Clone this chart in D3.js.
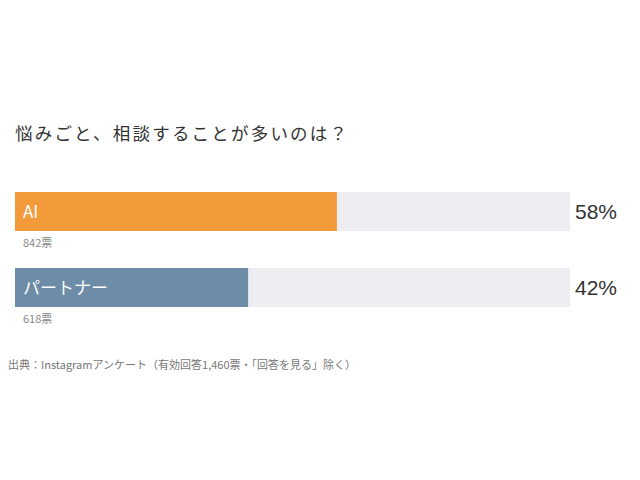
<!DOCTYPE html>
<html><head><meta charset="utf-8">
<script src="https://cdn.jsdelivr.net/npm/d3@7"></script>
<style>body{margin:0;background:#fff}svg{display:block}</style>
</head><body>
<script>
const categories = ["AI", "パートナー"];
const votes = [842, 618];
const percents = [58, 42];
const colors = ["#F39A3B", "#6D8CA8"];
const title = "悩みごと、相談することが多いのは？";
const footnote = "出典：Instagramアンケート（有効回答1,460票・「回答を見る」除く）";

const W = 640, H = 480;
const font = "'Noto Sans CJK JP','Liberation Sans',Arial,sans-serif";
const svg = d3.select("body").append("svg").attr("width", W).attr("height", H);

const x = d3.scaleLinear().domain([0, 100]).range([15, 570]);
const y = d3.scaleBand().domain(categories).range([192, 307]).paddingInner(0.487).paddingOuter(0);
const bh = y.bandwidth();

svg.append("text").attr("x", 15).attr("y", 140).text(title)
  .attr("font-family", font).attr("font-size", 17.5).attr("fill", "#333").attr("letter-spacing", 2.2);

const g = svg.selectAll("g.row").data(categories).join("g").attr("class", "row");
g.append("rect").attr("x", x(0)).attr("y", d => y(d)).attr("width", x(100) - x(0)).attr("height", bh).attr("fill", "#EDEDF2");
g.append("rect").attr("x", x(0)).attr("y", d => y(d)).attr("width", (d, i) => x(percents[i]) - x(0)).attr("height", bh).attr("fill", (d, i) => colors[i]);
g.append("text").attr("x", 23).attr("y", d => y(d) + 26).text(d => d)
  .attr("font-family", font).attr("font-size", 17).attr("fill", "#fff");
g.append("text").attr("x", 575).attr("y", d => y(d) + 27).text((d, i) => percents[i] + "%")
  .attr("font-family", "'Liberation Sans',Arial,sans-serif").attr("font-size", 21).attr("fill", "#333");
g.append("text").attr("x", 23).attr("y", d => y(d) + 55).text((d, i) => votes[i] + "票")
  .attr("font-family", font).attr("font-size", 11).attr("fill", "#888");

svg.append("text").attr("x", 8).attr("y", 369).text(footnote)
  .attr("font-family", font).attr("font-size", 11).attr("fill", "#777");
</script>
</body></html>
